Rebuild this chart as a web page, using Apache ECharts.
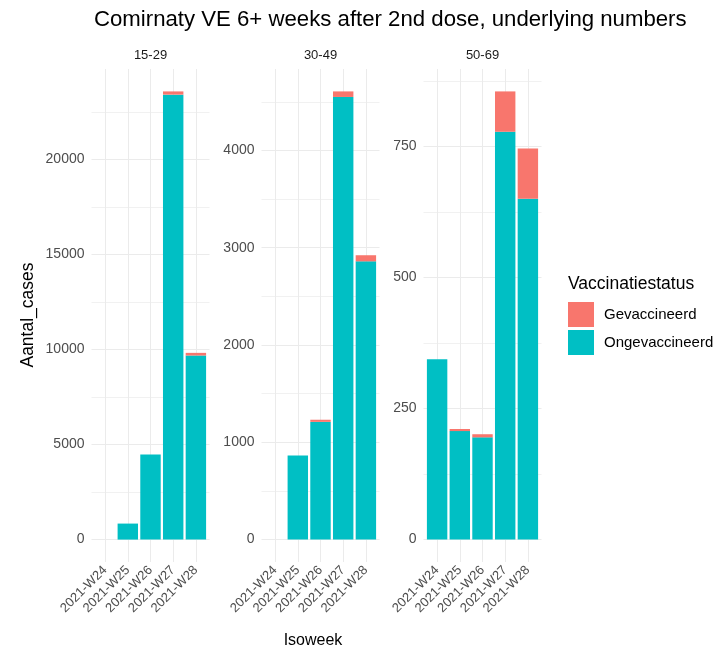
<!DOCTYPE html>
<html><head><meta charset="utf-8">
<script src="https://cdn.jsdelivr.net/npm/echarts@6/dist/echarts.min.js"></script>
<style>html,body{margin:0;padding:0;background:#fff}#c{width:723px;height:657px}</style>
</head><body><div id="c"></div>
<script>
const weeks = ['2021-W24','2021-W25','2021-W26','2021-W27','2021-W28'];
const ageGroups = ['15-29','30-49','50-69'];
const unvaccinated1529 = [null, 842, 4470, 23400, 9680];
const vaccinated1529   = [null, 0, 0, 170, 140];
const unvaccinated3049 = [null, 864, 1210, 4550, 2860];
const vaccinated3049   = [null, 0, 22, 57, 63];
const unvaccinated5069 = [344, 207, 195, 778, 650];
const vaccinated5069   = [0, 4, 6, 77, 96];
const yTicks1529 = [0, 5000, 10000, 15000, 20000];
const yTicks3049 = [0, 1000, 2000, 3000, 4000];
const yTicks5069 = [0, 250, 500, 750];
const seriesNames = ['Gevaccineerd', 'Ongevaccineerd'];
const seriesColors = { 'Gevaccineerd': '#F8766D', 'Ongevaccineerd': '#00BFC4' };
const chartTitle = 'Comirnaty VE 6+ weeks after 2nd dose, underlying numbers';
const yTitle = 'Aantal_cases';
const xTitle = 'Isoweek';
const legendTitle = 'Vaccinatiestatus';

const FF = '"Liberation Sans", Arial, sans-serif';
const unvac = [unvaccinated1529, unvaccinated3049, unvaccinated5069];
const vac = [vaccinated1529, vaccinated3049, vaccinated5069];
const yTicks = [yTicks1529, yTicks3049, yTicks5069];
const panelLeft = [91.5, 261.5, 423.5], panelWidth = 118, panelTop = 69, panelHeight = 493;
const xPad = 0.6;
const barW = panelWidth / (weeks.length - 1 + 2 * xPad) * 0.9;
const weekIdx = weeks.map((w, k) => k);

const grid = [], xAxis = [], yAxis = [], series = [], graphic = [];
ageGroups.forEach((g, i) => {
  grid.push({ left: panelLeft[i], top: panelTop, width: panelWidth, height: panelHeight });
  const totals = unvac[i].map((u, k) => (u || 0) + (vac[i][k] || 0));
  const maxT = Math.max(...totals);
  const yMin = -0.05 * maxT, yMax = 1.05 * maxT;
  const major = yTicks[i];
  const step = major[1] - major[0];
  const minor = [];
  major.forEach(v => { if (v + step / 2 < yMax) minor.push(v + step / 2); });
  xAxis.push({
    type: 'value', gridIndex: i, min: -xPad, max: weeks.length - 1 + xPad,
    axisLine: { show: false }, axisTick: { show: false, customValues: weekIdx },
    splitLine: { show: true, lineStyle: { color: '#EBEBEB', width: 1 } },
    axisLabel: { show: true, customValues: weekIdx, rotate: 45, margin: 6,
      fontSize: 13, color: '#4D4D4D', fontFamily: FF,
      formatter: v => weeks[Math.round(v)] || '' }
  });
  yAxis.push({
    type: 'value', gridIndex: i, position: 'left', min: yMin, max: yMax,
    axisLine: { show: false }, axisTick: { show: false, customValues: minor }, axisLabel: { show: false },
    splitLine: { show: true, lineStyle: { color: '#F1F1F1', width: 1 } }
  });
  yAxis.push({
    type: 'value', gridIndex: i, position: 'left', min: yMin, max: yMax,
    axisLine: { show: false }, axisTick: { show: false, customValues: major },
    axisLabel: { show: true, customValues: major, margin: 7, fontSize: 14, color: '#4D4D4D', fontFamily: FF,
      formatter: v => String(Math.round(v)) },
    splitLine: { show: true, lineStyle: { color: '#EBEBEB', width: 1 } }
  });
  series.push({
    name: 'Ongevaccineerd', type: 'bar', xAxisIndex: i, yAxisIndex: 2 * i + 1, stack: 's' + i,
    barWidth: barW, itemStyle: { color: seriesColors['Ongevaccineerd'] },
    encode: { x: 1, y: 0 },
    data: weekIdx.map(k => [unvac[i][k], k])
  });
  series.push({
    name: 'Gevaccineerd', type: 'bar', xAxisIndex: i, yAxisIndex: 2 * i + 1, stack: 's' + i,
    barWidth: barW, itemStyle: { color: seriesColors['Gevaccineerd'] },
    encode: { x: 1, y: 0 },
    data: weekIdx.map(k => [vac[i][k], k])
  });
  graphic.push({ type: 'text', x: panelLeft[i] + panelWidth / 2, y: 55,
    style: { text: g, fill: '#1A1A1A', font: '13px ' + FF, align: 'center', verticalAlign: 'middle' } });
});

graphic.push({ type: 'text', x: 94, y: 20,
  style: { text: chartTitle, fill: '#000', font: '22.2px ' + FF, align: 'left', verticalAlign: 'middle' } });
graphic.push({ type: 'text', x: 28, y: 315, rotation: Math.PI / 2,
  style: { text: yTitle, fill: '#000', font: '17.5px ' + FF, align: 'center', verticalAlign: 'middle' } });
graphic.push({ type: 'text', x: 313, y: 641,
  style: { text: xTitle, fill: '#000', font: '16px ' + FF, align: 'center', verticalAlign: 'middle' } });
graphic.push({ type: 'text', x: 568, y: 284,
  style: { text: legendTitle, fill: '#000', font: '17.5px ' + FF, align: 'left', verticalAlign: 'middle' } });

const chart = echarts.init(document.getElementById('c'), null, { renderer: 'canvas' });
chart.setOption({
  animation: false,
  backgroundColor: '#fff',
  grid, xAxis, yAxis, series, graphic,
  legend: {
    data: seriesNames, orient: 'vertical', left: 568, top: 302, padding: 0,
    itemWidth: 26, itemHeight: 25, itemGap: 3,
    icon: 'rect', textStyle: { fontSize: 15, color: '#000', fontFamily: FF, padding: [0, 0, 0, 5] }
  }
});
</script></body></html>
